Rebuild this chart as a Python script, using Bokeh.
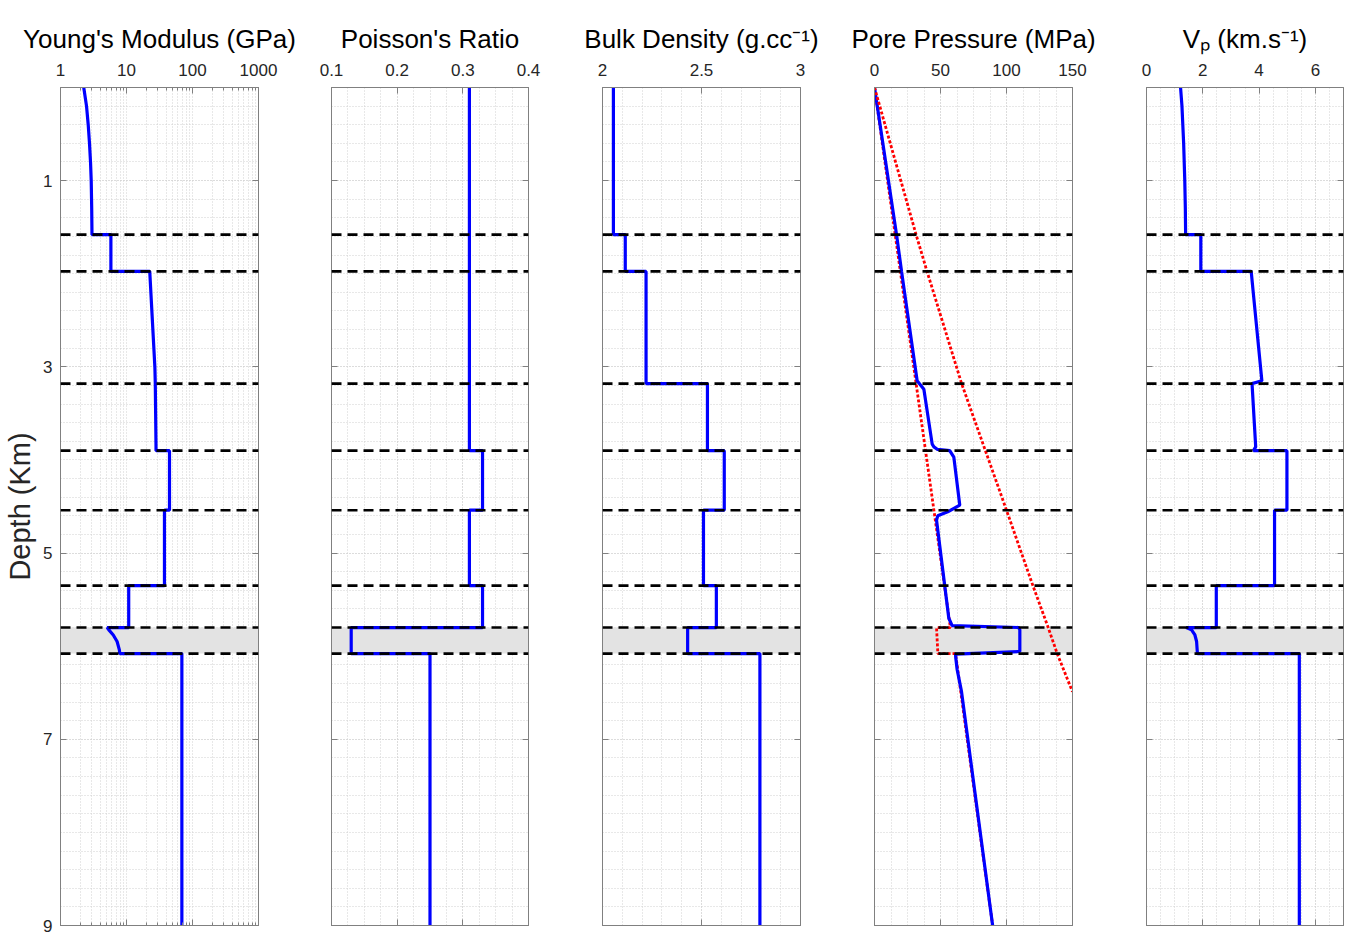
from bokeh.plotting import figure
from bokeh.models import (Range1d, LogAxis, LinearAxis, FixedTicker, Span, BoxAnnotation)
from bokeh.layouts import row
from bokeh.embed import file_html
from bokeh.resources import INLINE

# ---------------- data ----------------
boundaries = [1.58, 1.975, 3.18, 3.9, 4.54, 5.35, 5.8, 6.08]
shade_top, shade_bottom = 5.8, 6.08

depth_ticks = [1, 3, 5, 7, 9]
depth_labels = ["1", "3", "5", "7", "9"]

# Young's modulus (GPa)
ym_depth = [0, 0.2, 0.4, 0.6, 0.8, 1.0, 1.3, 1.58, 1.58, 1.975, 1.975, 3.0, 3.18, 3.85, 3.9, 3.9,
            4.54, 4.54, 5.35, 5.35, 5.8, 5.8, 5.825, 5.88, 5.95, 6.04, 6.08, 6.08, 9.0]
ym_val = [2.25, 2.48, 2.63, 2.75, 2.85, 2.92, 2.97, 3.0, 5.8, 5.8, 22.5, 26.9, 27.3, 28.0, 28.0, 44.8,
          44.8, 37.6, 37.6, 10.8, 10.8, 5.1, 5.4, 6.3, 7.2, 7.8, 7.9, 69.0, 69.0]

# Poisson's ratio
pr_depth = [0, 3.9, 3.9, 4.54, 4.54, 5.35, 5.35, 5.8, 5.8, 6.08, 6.08, 9.0]
pr_val = [0.31, 0.31, 0.33, 0.33, 0.31, 0.31, 0.33, 0.33, 0.13, 0.13, 0.25, 0.25]

# Bulk density (g/cc)
rho_depth = [0, 1.58, 1.58, 1.975, 1.975, 3.18, 3.18, 3.9, 3.9, 4.54, 4.54, 5.35, 5.35, 5.8, 5.8,
             6.08, 6.08, 9.0]
rho_val = [2.055, 2.055, 2.115, 2.115, 2.22, 2.22, 2.53, 2.53, 2.615, 2.615, 2.51, 2.51, 2.575,
           2.575, 2.43, 2.43, 2.795, 2.795]

# Pore pressure (MPa)
pp_depth = [0, 1.58, 1.975, 3.15, 3.24, 3.83, 3.86, 3.886, 3.9, 3.97, 4.486, 4.557, 4.6, 4.647,
            5.7, 5.78, 5.8, 5.825, 6.057, 6.086, 6.13, 6.25, 6.486, 9.0]
pp_val = [0, 16.7, 20.5, 32.3, 37.4, 43.7, 45.0, 47.5, 57.0, 60.1, 64.6, 55.5, 47.9, 47.0,
          56.3, 58.8, 109.3, 110.1, 110.1, 61.4, 61.6, 62.6, 65.9, 89.5]

# Hydrostatic pressure (red dotted)
hs_depth = [0, 5.8, 5.8, 6.08, 6.08, 9.0]
hs_val = [0, 57.5, 47.0, 48.0, 61.4, 89.5]

# Overburden / lithostatic pressure (red dotted)
ob_depth = [0, 1.58, 1.975, 3.18, 3.9, 4.54, 5.35, 5.8, 6.08, 6.49]
ob_val = [0, 31.5, 39.8, 66.0, 84.0, 100.0, 120.0, 131.6, 138.4, 150.0]

# P-wave velocity (km/s)
vp_depth = [0, 0.2, 0.4, 0.6, 0.8, 1.0, 1.3, 1.58, 1.58, 1.975, 1.975, 3.15, 3.18, 3.86, 3.9, 3.9,
            4.54, 4.54, 5.35, 5.35, 5.8, 5.8, 5.825, 5.88, 5.95, 6.04, 6.08, 6.08, 9.0]
vp_val = [1.21, 1.26, 1.29, 1.32, 1.34, 1.36, 1.38, 1.39, 1.93, 1.93, 3.72, 4.10, 3.75, 3.88, 3.80,
          4.99, 4.99, 4.55, 4.55, 2.48, 2.48, 1.41, 1.60, 1.72, 1.78, 1.80, 1.81, 5.43, 5.43]

# axis ticks
ym_ticks = [1, 10, 100, 1000]
ym_labels = ["1", "10", "100", "1000"]
pr_ticks = [0.1, 0.2, 0.3, 0.4]
pr_labels = ["0.1", "0.2", "0.3", "0.4"]
rho_ticks = [2, 2.5, 3]
rho_labels = ["2", "2.5", "3"]
pp_ticks = [0, 50, 100, 150]
pp_labels = ["0", "50", "100", "150"]
vp_ticks = [0, 2, 4, 6]
vp_labels = ["0", "2", "4", "6"]

titles = ["Young's Modulus (GPa)", "Poisson's Ratio", "Bulk Density (g.cc\u207b\u00b9)",
          "Pore Pressure (MPa)", "V\u209a (km.s\u207b\u00b9)"]

# ---------------- styling helpers ----------------
FONT = "Liberation Sans"
GRID = "#d0d0d0"
AX = "#808080"
TXT = "#262626"
BLUE = "#0000ff"
RED = "#ff0000"

FRAME_H = 838
TOP = 87
BOTTOM = 11

depth_minor = [round(0.2 * i, 1) for i in range(46)]


def lin_minor(a, b, step):
    n = int(round((b - a) / step))
    return [round(a + i * step, 4) for i in range(n + 1)]


def log_minor():
    out = []
    for dec in [1, 10, 100]:
        for k in range(2, 10):
            out.append(k * dec)
    return out


y_range = Range1d(9, 0)


def style_axis(ax, ticks, minor, labels, show, minor_len=0):
    ax.ticker = FixedTicker(ticks=ticks, minor_ticks=minor)
    if show:
        ax.major_label_overrides = {t: l for t, l in zip(ticks, labels)}
        ax.major_label_text_font = FONT
        ax.major_label_text_font_size = "17px"
        ax.major_label_text_color = TXT
        ax.major_label_standoff = 12
    else:
        ax.major_label_overrides = {t: "" for t in ticks}
        ax.major_label_text_font_size = "0px"
        ax.major_label_standoff = 0
    ax.major_tick_in = 6
    ax.major_tick_out = 0
    ax.minor_tick_in = minor_len
    ax.minor_tick_out = 0
    ax.axis_line_color = AX
    ax.major_tick_line_color = AX
    ax.minor_tick_line_color = AX


def make_panel(title, xr, log, xticks, xminor, xlabels, bl, br, fw, ylabels):
    p = figure(frame_width=fw, frame_height=FRAME_H, x_range=xr, y_range=y_range,
               x_axis_type="log" if log else "linear", x_axis_location="above",
               output_backend="svg", toolbar_location=None,
               min_border_left=bl, min_border_right=br, min_border_top=TOP,
               min_border_bottom=BOTTOM)
    p.title.text = title
    p.title.align = "center"
    p.title.text_font = FONT
    p.title.text_font_size = "26px"
    p.title.text_font_style = "normal"
    p.title.text_color = "#000000"
    p.title.standoff = 13
    p.outline_line_color = AX
    p.outline_line_alpha = 1
    p.background_fill_color = "white"
    p.border_fill_color = "white"

    mlen = 3 if log else 0
    style_axis(p.xaxis[0], xticks, xminor, xlabels, True, mlen)
    bottom = LogAxis() if log else LinearAxis()
    style_axis(bottom, xticks, xminor, xlabels, False, mlen)
    p.add_layout(bottom, "below")

    style_axis(p.yaxis[0], depth_ticks, depth_minor, depth_labels, ylabels)
    if ylabels:
        p.yaxis[0].major_label_standoff = 8
    right = LinearAxis()
    style_axis(right, depth_ticks, depth_minor, depth_labels, False)
    p.add_layout(right, "right")

    if ylabels:
        p.yaxis[0].axis_label = "Depth (Km)"
        p.yaxis[0].axis_label_text_font = FONT
        p.yaxis[0].axis_label_text_font_size = "29px"
        p.yaxis[0].axis_label_text_font_style = "normal"
        p.yaxis[0].axis_label_text_color = "#262626"
        p.yaxis[0].axis_label_standoff = 4

    p.xgrid.ticker = FixedTicker(ticks=xticks, minor_ticks=xminor)
    p.ygrid.ticker = FixedTicker(ticks=depth_ticks, minor_ticks=depth_minor)
    for g in (p.xgrid[0], p.ygrid[0]):
        g.grid_line_color = GRID
        g.grid_line_dash = "1 2"
        g.grid_line_width = 1
        g.minor_grid_line_color = GRID
        g.minor_grid_line_dash = "1 2"
        g.minor_grid_line_width = 1

    p.add_layout(BoxAnnotation(top=shade_top, bottom=shade_bottom, fill_color="#e3e3e3",
                               fill_alpha=1.0, line_color=None, level="underlay"))
    return p


def add_bounds(p):
    for d in boundaries:
        p.add_layout(Span(location=d, dimension="width", line_color="black",
                          line_dash="10 6", line_width=2.6))


p1 = make_panel(titles[0], Range1d(1, 1000), True, ym_ticks, log_minor(), ym_labels, 60, 40, 198, True)
p1.line(ym_val, ym_depth, line_color=BLUE, line_width=3.2)
add_bounds(p1)

p2 = make_panel(titles[1], Range1d(0.1, 0.4), False, pr_ticks, lin_minor(0.1, 0.4, 0.025), pr_labels, 33, 37, 197, False)
p2.line(pr_val, pr_depth, line_color=BLUE, line_width=3.2)
add_bounds(p2)

p3 = make_panel(titles[2], Range1d(2, 3), False, rho_ticks, lin_minor(2, 3, 0.1), rho_labels, 37, 37, 198, False)
p3.line(rho_val, rho_depth, line_color=BLUE, line_width=3.2)
add_bounds(p3)

p4 = make_panel(titles[3], Range1d(0, 150), False, pp_ticks, lin_minor(0, 150, 12.5), pp_labels, 37, 37, 198, False)
p4.line(hs_val, hs_depth, line_color=RED, line_width=2.8, line_dash="3 2")
p4.line(pp_val, pp_depth, line_color=BLUE, line_width=3.2)
p4.line(ob_val, ob_depth, line_color=RED, line_width=2.8, line_dash="3 2")
add_bounds(p4)

p5 = make_panel(titles[4], Range1d(0, 7), False, vp_ticks, lin_minor(0, 7, 0.5), vp_labels, 37, 6, 197, False)
p5.line(vp_val, vp_depth, line_color=BLUE, line_width=3.2)
add_bounds(p5)

layout = row(p1, p2, p3, p4, p5, spacing=0)
open("out.html", "w").write(file_html(layout, INLINE))
